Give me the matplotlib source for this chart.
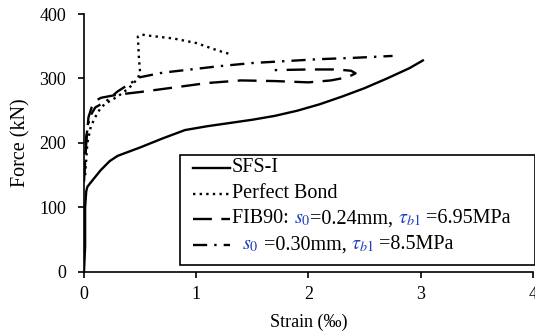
import matplotlib
matplotlib.use('Agg')
import matplotlib.pyplot as plt
from matplotlib.patches import Rectangle
from matplotlib.lines import Line2D

plt.rcParams['font.family'] = ['Liberation Serif', 'DejaVu Serif']
plt.rcParams['mathtext.fontset'] = 'stix'

# SFS-I (test)
sfs_x = [0, 0.01, 0.01, 0.02, 0.03, 0.08, 0.15, 0.23, 0.3, 0.5, 0.7, 0.9, 1.1, 1.3, 1.5, 1.7, 1.9, 2.1, 2.3, 2.5, 2.7, 2.9, 3.02]
sfs_y = [0, 40, 100, 125, 132, 143, 158, 172, 180, 193, 207, 220, 226, 231, 236, 242, 250, 260, 272, 285, 300, 316, 328]

# Perfect bond
pb_x = [0.01, 0.03, 0.06, 0.1, 0.15, 0.2, 0.3, 0.4, 0.48, 0.5, 0.49, 0.48, 0.52, 0.6, 0.8, 1.0, 1.2, 1.3]
pb_y = [150, 200, 225, 240, 255, 262, 272, 285, 300, 310, 330, 365, 368, 366, 362, 355, 343, 338]

# FIB90: s0=0.24mm, tau_b1=6.95MPa
fib_x = [0.0, 0.02, 0.04, 0.07, 0.1, 0.15, 0.3, 0.5, 0.8, 1.1, 1.4, 1.7, 2.0, 2.2, 2.35, 2.42, 2.38, 2.25, 2.0, 1.7]
fib_y = [140, 200, 240, 256, 265, 270, 275, 279, 286, 293, 297, 296, 294, 297, 302, 308, 312, 314, 314, 313]

# s0=0.30mm, tau_b1=8.5MPa
s30_x = [0.0, 0.02, 0.05, 0.1, 0.2, 0.3, 0.5, 0.7, 0.9, 1.2, 1.5, 1.8, 2.1, 2.4, 2.75]
s30_y = [150, 210, 240, 255, 265, 280, 302, 309, 313, 319, 324, 327, 330, 332, 335]

fig = plt.figure(figsize=(5.35, 3.34), dpi=100)
ax = fig.add_axes([0.157, 0.186, 0.839, 0.772])

lw = 1.7
ax.plot(sfs_x, sfs_y, color='black', lw=lw, ls='-')
ax.plot(pb_x, pb_y, color='black', lw=lw, ls=(0, (1, 1.8)))
ax.plot(fib_x, fib_y, color='black', lw=lw, ls=(0, (8, 4)))
ax.plot(s30_x, s30_y, color='black', lw=lw, ls=(0, (6, 3, 1, 3)))

ax.set_xlim(0, 4)
ax.set_ylim(0, 400)
ax.set_xticks([0, 1, 2, 3, 4])
ax.set_yticks([0, 100, 200, 300, 400])
ax.spines['top'].set_visible(False)
ax.spines['right'].set_visible(False)
ax.spines['left'].set_linewidth(1.2)
ax.spines['bottom'].set_linewidth(1.2)
ax.tick_params(direction='out', length=4, width=1.2, labelsize=13)
ax.tick_params(axis='y', pad=9)
ax.tick_params(axis='x', pad=6)
ax.set_xlabel('Strain (‰)', fontsize=13, labelpad=8)
ax.set_ylabel('Force (kN)', fontsize=14.5, labelpad=6)

# hand-built legend so parts of the text can be blue
def px(x, y):
    # figure pixel -> axes fraction
    return ((x - 84) / (533 - 84), (272 - y) / (272 - 14))

x0, y0 = px(180, 265)
x1, y1 = px(535, 155)
ax.add_patch(Rectangle((x0, y0), x1 - x0, y1 - y0, transform=ax.transAxes,
                       fill=True, facecolor='white', edgecolor='black', lw=1.2,
                       zorder=5, clip_on=False))

rows_y = [168, 194, 219, 245]
styles = ['-', (0, (1, 1.8)), (0, (8, 4)), (0, (6, 3, 1, 3))]
for ry, st in zip(rows_y, styles):
    a, b = px(193, ry)
    c, _ = px(230, ry)
    ax.add_line(Line2D([a, c], [b, b], transform=ax.transAxes, color='black',
                       lw=lw, ls=st, zorder=6, clip_on=False))

blue = '#1f3fbf'
fs = 14.5
rows = [
    [('SFS-I', 'black')],
    [('Perfect Bond', 'black')],
    [('FIB90: ', 'black'), ('$s_0$', blue), ('=0.24mm, ', 'black'),
     (r'$\tau_{b1}$', blue), (' =6.95MPa', 'black')],
    [('  ', 'black'), ('$s_0$', blue), (' =0.30mm, ', 'black'),
     (r'$\tau_{b1}$', blue), (' =8.5MPa', 'black')],
]
for ry, parts in zip(rows_y, rows):
    tx, ty = px(232, ry)
    prev = None
    for s, col in parts:
        if prev is None:
            prev = ax.text(tx, ty, s, transform=ax.transAxes, color=col,
                           fontsize=fs, va='center', ha='left', zorder=7)
        else:
            prev = ax.annotate(s, xy=(1, 0.5), xycoords=prev, va='center',
                               ha='left', color=col, fontsize=fs, zorder=7)

fig.savefig('out.png', dpi=100)
